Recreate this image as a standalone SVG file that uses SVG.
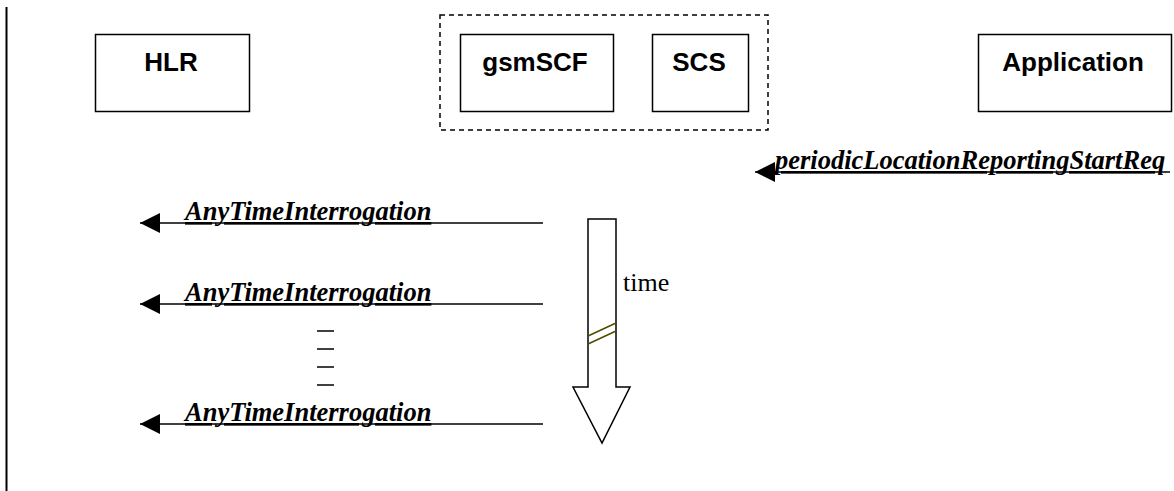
<svg xmlns="http://www.w3.org/2000/svg" width="1174" height="491" viewBox="0 0 1174 491">
<style>
.box{fill:#fff;stroke:#000;stroke-width:1.5}
.lbl{font-family:"Liberation Sans",Arial,sans-serif;font-weight:bold;font-size:26px;fill:#000;text-anchor:middle}
.msg{font-family:"Liberation Serif","Times New Roman",serif;font-weight:bold;font-style:italic;font-size:26.5px;fill:#000;text-decoration:underline}
.ln{stroke:#000;stroke-width:1.5;fill:none}
</style>
<defs>
<marker id="ah" markerWidth="20" markerHeight="20" refX="20" refY="10" orient="auto" markerUnits="userSpaceOnUse" viewBox="0 0 20 20">
<path d="M0,0 L20,10 L0,20 Z" fill="#000"/>
</marker>
</defs>
<rect x="0" y="0" width="1174" height="491" fill="#fff"/>
<line x1="6.5" y1="7" x2="6.5" y2="491" stroke="#000" stroke-width="2"/>
<rect id="scf-scs-group" x="440" y="15" width="328" height="115" fill="none" stroke="#000" stroke-width="1.5" stroke-dasharray="5,4"/>
<g id="hlr"><rect class="box" x="95.5" y="34.5" width="154" height="77"/><text class="lbl" x="171" y="71">HLR</text></g>
<g id="gsmscf"><rect class="box" x="460.5" y="34.5" width="153" height="77"/><text class="lbl" x="535" y="71">gsmSCF</text></g>
<g id="scs"><rect class="box" x="652.5" y="34.5" width="96" height="77"/><text class="lbl" x="699" y="71">SCS</text></g>
<g id="application"><rect class="box" x="978.5" y="34.5" width="193" height="77"/><text class="lbl" x="1073" y="71">Application</text></g>
<g id="connectors">
<line class="ln" x1="1170" y1="172" x2="755" y2="172" marker-end="url(#ah)"/>
<text class="msg" x="775" y="169">periodicLocationReportingStartReq</text>
<line class="ln" x1="543" y1="223" x2="140" y2="223" marker-end="url(#ah)"/>
<text class="msg" x="185" y="220">AnyTimeInterrogation</text>
<line class="ln" x1="543" y1="304" x2="140" y2="304" marker-end="url(#ah)"/>
<text class="msg" x="185" y="301">AnyTimeInterrogation</text>
<line class="ln" x1="543" y1="424" x2="140" y2="424" marker-end="url(#ah)"/>
<text class="msg" x="185" y="421">AnyTimeInterrogation</text>
</g>
<g id="dots" stroke="#000" stroke-width="1.5">
<line x1="317" y1="331" x2="334" y2="331"/>
<line x1="317" y1="349" x2="334" y2="349"/>
<line x1="317" y1="367" x2="334" y2="367"/>
<line x1="317" y1="385" x2="334" y2="385"/>
</g>
<g id="time-arrow">
<polygon points="588,219 616,219 616,387 630,387 602,443 573,387 588,387" fill="#fff" stroke="#000" stroke-width="1.5"/>
<line x1="588" y1="336" x2="616" y2="323" stroke="#4d4d00" stroke-width="1.5"/>
<line x1="588" y1="344" x2="616" y2="331" stroke="#4d4d00" stroke-width="1.5"/>
<text x="623" y="291" font-family="'Liberation Serif','Times New Roman',serif" font-size="26" fill="#000">time</text>
</g>
</svg>
